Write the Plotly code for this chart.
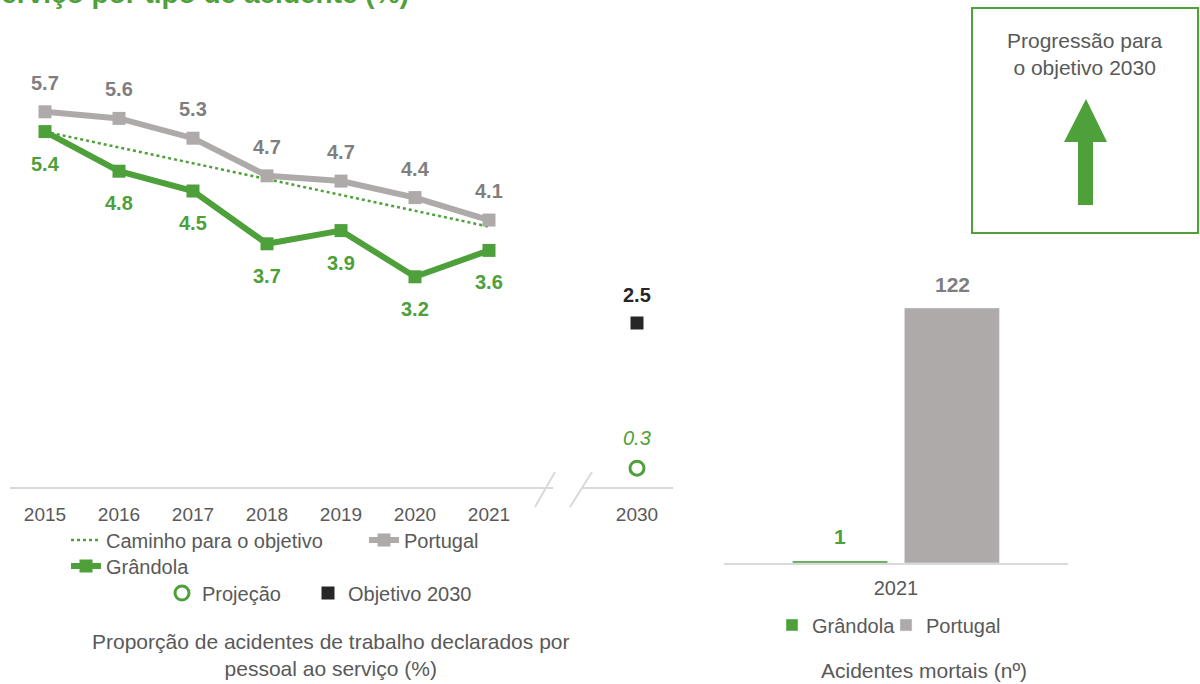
import plotly.graph_objects as go

# ---------------- data ----------------
years = [2015, 2016, 2017, 2018, 2019, 2020, 2021]
grandola = [5.4, 4.8, 4.5, 3.7, 3.9, 3.2, 3.6]
portugal = [5.7, 5.6, 5.3, 4.73, 4.65, 4.4, 4.06]
path_years = [2015, 2021]
path_values = [5.4, 3.96]
target_year = 2030
projection_2030 = [0.3]
objective_2030 = [2.5]
tick_labels = ["2015", "2016", "2017", "2018", "2019", "2020", "2021", "2030"]

fatal_categories = ["2021"]
fatal_grandola = [1]
fatal_portugal = [122]

# ---------------- styling ----------------
W, H = 1200, 684
GREEN = "#4EA03A"
GREY = "#AEAAAA"
GREY_TXT = "#7F7F7F"
TXT = "#595959"
DARK = "#262626"
FONT = "Liberation Sans, Arial, sans-serif"
BREAK_POS = 8  # 2030 drawn after an axis break


def px(x):
    return x / W


def py(y):
    return 1 - y / H


def pos(year):
    return BREAK_POS if year == target_year else year - years[0]


xs = [pos(y) for y in years]

fig = go.Figure()

fig.add_trace(go.Scatter(
    x=[pos(y) for y in path_years], y=path_values, mode="lines",
    line=dict(color=GREEN, width=2.5, dash="dot"),
    name="Caminho para o objetivo", legend="legend", xaxis="x", yaxis="y"))
fig.add_trace(go.Scatter(
    x=xs, y=portugal, mode="lines+markers",
    line=dict(color=GREY, width=6), marker=dict(symbol="square", size=13, color=GREY),
    name="Portugal", legend="legend", xaxis="x", yaxis="y"))
fig.add_trace(go.Scatter(
    x=xs, y=grandola, mode="lines+markers",
    line=dict(color=GREEN, width=6), marker=dict(symbol="square", size=13, color=GREEN),
    name="Grândola", legend="legend2", xaxis="x", yaxis="y"))
fig.add_trace(go.Scatter(
    x=[pos(target_year)], y=projection_2030, mode="markers",
    marker=dict(symbol="circle-open", size=14, color=GREEN, line=dict(width=3, color=GREEN)),
    name="Projeção", legend="legend3", xaxis="x", yaxis="y"))
fig.add_trace(go.Scatter(
    x=[pos(target_year)], y=objective_2030, mode="markers",
    marker=dict(symbol="square", size=13, color=DARK),
    name="Objetivo 2030", legend="legend5", xaxis="x", yaxis="y"))

# bars
fig.add_trace(go.Bar(
    x=fatal_categories, y=fatal_grandola, name="Grândola", marker_color=GREEN,
    legend="legend4", xaxis="x2", yaxis="y2"))
fig.add_trace(go.Bar(
    x=fatal_categories, y=fatal_portugal, name="Portugal", marker_color=GREY,
    legend="legend6", xaxis="x2", yaxis="y2"))

annotations = []
for x, v in zip(xs, portugal):
    annotations.append(dict(x=x, y=v, xref="x", yref="y", text=f"<b>{v:.1f}</b>", showarrow=False,
                            yshift=29, font=dict(size=20, color=GREY_TXT, family=FONT)))
for x, v in zip(xs, grandola):
    annotations.append(dict(x=x, y=v, xref="x", yref="y", text=f"<b>{v:.1f}</b>", showarrow=False,
                            yshift=-32, font=dict(size=20, color=GREEN, family=FONT)))
annotations.append(dict(x=pos(target_year), y=objective_2030[0], xref="x", yref="y",
                        text=f"<b>{objective_2030[0]}</b>", showarrow=False, yshift=28,
                        font=dict(size=20, color=DARK, family=FONT)))
annotations.append(dict(x=pos(target_year), y=projection_2030[0], xref="x", yref="y",
                        text=f"<i>{projection_2030[0]}</i>", showarrow=False, yshift=30,
                        font=dict(size=20, color=GREEN, family=FONT)))
# bar labels
for v, shift, col in [(fatal_grandola[0], -56, GREEN), (fatal_portugal[0], 56, GREY_TXT)]:
    annotations.append(dict(x=0, y=v, xref="x2", yref="y2", text=f"<b>{v}</b>", showarrow=False,
                            xshift=shift, yshift=24, font=dict(size=21, color=col, family=FONT)))

# titles / captions
annotations += [
    dict(x=px(411), y=py(11), xref="paper", yref="paper", xanchor="right", yanchor="bottom",
         text="<b>Acidentes de trabalho por pessoal ao serviço por tipo de acidente (%)</b>",
         showarrow=False, font=dict(size=28, color=GREEN, family=FONT)),
    dict(x=px(330), y=py(655), xref="paper", yref="paper", xanchor="center", yanchor="middle",
         text="Proporção de acidentes de trabalho declarados por<br>pessoal ao serviço (%)",
         showarrow=False, font=dict(size=21, color=TXT, family=FONT)),
    dict(x=px(924), y=py(670), xref="paper", yref="paper", xanchor="center", yanchor="middle",
         text="Acidentes mortais (nº)", showarrow=False, font=dict(size=21, color=TXT, family=FONT)),
    dict(x=px(1085), y=py(54), xref="paper", yref="paper", xanchor="center", yanchor="middle",
         text="Progressão para<br>o objetivo 2030", showarrow=False,
         font=dict(size=21, color=TXT, family=FONT)),
]

LINE = "#D9D9D9"
shapes = [
    dict(type="line", xref="paper", yref="paper", x0=px(10), x1=px(553), y0=py(488), y1=py(488),
         line=dict(color=LINE, width=2)),
    dict(type="line", xref="paper", yref="paper", x0=px(583), x1=px(673), y0=py(488), y1=py(488),
         line=dict(color=LINE, width=2)),
    dict(type="line", xref="paper", yref="paper", x0=px(535), x1=px(555), y0=py(507), y1=py(472),
         line=dict(color=LINE, width=2)),
    dict(type="line", xref="paper", yref="paper", x0=px(570), x1=px(592), y0=py(507), y1=py(472),
         line=dict(color=LINE, width=2)),
    # progress box
    dict(type="rect", xref="paper", yref="paper", x0=px(972), x1=px(1198), y0=py(233), y1=py(8),
         line=dict(color=GREEN, width=2), fillcolor="rgba(0,0,0,0)"),
]
arrow_pts = [(1086, 99), (1107, 142), (1093, 142), (1093, 205), (1078, 205), (1078, 142), (1064, 142)]
path = "M " + " L ".join(f"{px(a):.5f},{py(b):.5f}" for a, b in arrow_pts) + " Z"
shapes.append(dict(type="path", xref="paper", yref="paper", path=path, fillcolor=GREEN,
                   line=dict(width=0)))

legend_font = dict(size=20, color=TXT, family=FONT)


def leg(x, y, **kw):
    return dict(orientation="h", x=px(x), y=py(y), xanchor="left", yanchor="middle",
                font=legend_font, bgcolor="rgba(0,0,0,0)", **kw)


fig.update_layout(
    width=W, height=H, margin=dict(l=0, r=0, t=0, b=0),
    paper_bgcolor="white", plot_bgcolor="white",
    font=dict(family=FONT, color=TXT),
    barmode="group", bargap=0.35, bargroupgap=0.15,
    xaxis=dict(domain=[0, px(700)], range=[-45 / 74, (700 - 45) / 74],
               tickvals=[pos(y) for y in years] + [pos(target_year)], ticktext=tick_labels,
               showgrid=False, zeroline=False, showline=False, ticks="",
               ticklabelstandoff=13, tickfont=dict(size=19, color=TXT, family=FONT)),
    yaxis=dict(domain=[py(488), py(40)], range=[0, (488 - 40) / 66], visible=False),
    xaxis2=dict(domain=[px(724), px(1068)], showgrid=False, zeroline=False, showline=True,
                linecolor=LINE, linewidth=2, ticks="", ticklabelstandoff=6,
                tickfont=dict(size=20, color=TXT, family=FONT), anchor="y2"),
    yaxis2=dict(domain=[py(563), py(270)], range=[0, (563 - 270) / 2.09], visible=False,
                anchor="x2"),
    legend=leg(66, 540, entrywidth=253),
    legend2=leg(66, 566),
    legend3=leg(162, 593),
    legend5=leg(308, 593),
    legend4=leg(772, 625),
    legend6=leg(886, 625),
    annotations=annotations, shapes=shapes, showlegend=True,
)

fig.write_html("out.html", config={"displayModeBar": False},
               post_script="document.body.style.margin='0';document.body.style.overflow='hidden';")
